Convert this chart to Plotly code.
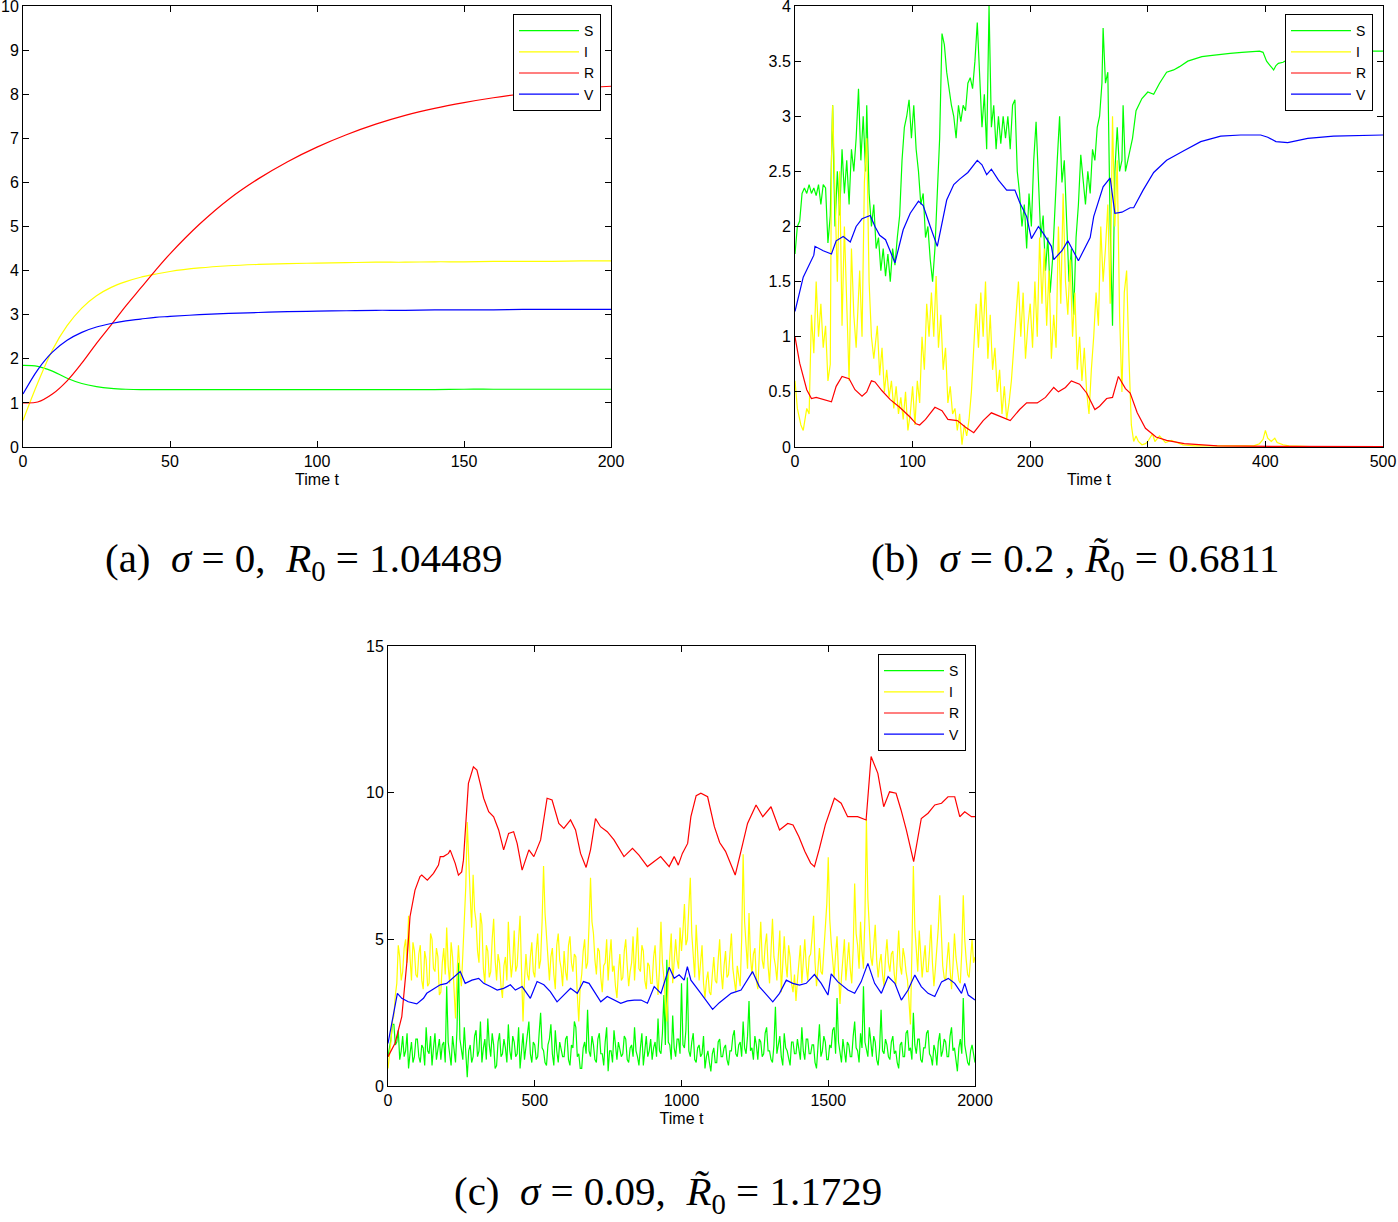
import plotly.graph_objects as go

# ---------------- Panel (a): deterministic ----------------
t_a = [0, 5, 10, 15, 20, 25, 30, 35, 40, 45, 50, 60, 70, 80, 90, 100, 110, 120, 130, 140, 150, 160, 170, 180, 190, 200]
S_a = [1.85, 1.83, 1.72, 1.56, 1.44, 1.37, 1.33, 1.31, 1.30, 1.30, 1.30, 1.30, 1.30, 1.30, 1.30, 1.30, 1.30, 1.30, 1.30, 1.30, 1.31, 1.31, 1.31, 1.31, 1.31, 1.31]
I_a = [0.60, 1.45, 2.20, 2.75, 3.15, 3.43, 3.62, 3.75, 3.85, 3.92, 3.98, 4.06, 4.11, 4.14, 4.16, 4.17, 4.18, 4.19, 4.19, 4.20, 4.20, 4.21, 4.21, 4.21, 4.22, 4.22]
R_a = [1.00, 1.02, 1.20, 1.50, 1.90, 2.35, 2.77, 3.20, 3.60, 4.00, 4.38, 5.05, 5.62, 6.08, 6.47, 6.80, 7.08, 7.32, 7.52, 7.68, 7.81, 7.92, 8.01, 8.08, 8.14, 8.18]
V_a = [1.20, 1.75, 2.15, 2.42, 2.60, 2.72, 2.80, 2.86, 2.90, 2.94, 2.96, 3.00, 3.03, 3.05, 3.07, 3.08, 3.09, 3.10, 3.10, 3.11, 3.11, 3.11, 3.12, 3.12, 3.12, 3.12]

# ---------------- Panel (b): sigma = 0.2 ----------------
t_bS = [0, 2, 4, 6, 8, 10, 12, 14, 16, 18, 20, 22, 24, 26, 28, 30, 32, 34, 36, 38, 40, 42, 44, 46, 48, 50, 52, 54, 56, 58, 60, 61, 63, 65, 67, 69, 71, 73, 75, 77, 79, 81, 83, 85, 87, 89, 91, 93, 95, 97, 99, 101, 103, 105, 107, 109, 111, 113, 115, 117, 119, 121, 123, 125, 127, 129, 131, 133, 135, 137, 139, 141, 143, 145, 147, 149, 151, 153, 155, 157, 159, 161, 163, 165, 167, 169, 171, 173, 175, 177, 179, 181, 183, 185, 187, 189, 191, 193, 195, 197, 199, 201, 203, 205, 207, 209, 211, 213, 215, 217, 219, 221, 223, 225, 227, 229, 231, 233, 235, 237, 239, 241, 243, 245, 247, 249, 251, 253, 255, 257, 259, 261, 262, 264, 266, 268, 270, 272, 274, 276, 278, 279, 281, 283, 285, 287, 290, 295, 300, 305, 310, 316, 322, 327, 334, 340, 346, 353, 360, 370, 380, 390, 395, 398, 401, 404, 407, 409, 411, 415, 420, 430, 440, 460, 480, 500]
S_b = [1.75, 2.00, 2.05, 2.30, 2.35, 2.30, 2.38, 2.30, 2.35, 2.28, 2.38, 2.20, 2.38, 2.35, 1.85, 2.10, 3.10, 2.00, 2.50, 2.10, 2.70, 2.30, 2.60, 2.20, 2.70, 2.50, 2.80, 3.25, 2.60, 3.00, 2.50, 3.10, 2.30, 2.00, 2.20, 1.80, 1.90, 1.60, 1.80, 1.55, 1.75, 1.50, 1.80, 1.65, 1.90, 2.10, 2.60, 2.90, 3.00, 3.15, 2.80, 3.10, 2.70, 2.50, 2.20, 2.30, 1.90, 2.00, 1.70, 1.50, 1.80, 2.30, 2.80, 3.75, 3.65, 3.40, 3.25, 3.10, 3.00, 2.80, 3.10, 2.95, 3.10, 3.05, 3.30, 3.35, 3.25, 3.50, 3.85, 3.30, 2.90, 3.20, 2.70, 4.00, 2.90, 3.10, 2.70, 3.00, 2.75, 3.00, 2.80, 3.00, 2.70, 3.10, 3.15, 2.50, 2.30, 2.00, 2.20, 1.80, 2.30, 2.00, 2.60, 2.95, 2.40, 1.90, 2.10, 1.60, 1.90, 1.40, 1.70, 2.20, 2.60, 3.00, 2.40, 2.60, 2.00, 1.50, 1.80, 1.20, 1.90, 2.20, 2.65, 2.40, 2.20, 2.50, 2.30, 2.70, 2.60, 2.90, 3.00, 3.30, 3.80, 3.30, 3.40, 2.00, 1.10, 2.50, 2.90, 2.50, 2.60, 3.10, 2.50, 2.60, 2.70, 2.80, 3.05, 3.16, 3.22, 3.20, 3.30, 3.40, 3.42, 3.45, 3.50, 3.52, 3.54, 3.55, 3.56, 3.57, 3.58, 3.59, 3.59, 3.58, 3.50, 3.46, 3.42, 3.46, 3.48, 3.49, 3.52, 3.55, 3.57, 3.58, 3.59, 3.59]

t_bI = [0, 2, 5, 7, 10, 12, 14, 16, 18, 20, 22, 24, 26, 28, 30, 31, 32, 34, 36, 38, 40, 42, 44, 46, 48, 50, 52, 55, 57, 59, 61, 63, 65, 67, 70, 72, 74, 76, 78, 80, 82, 84, 86, 88, 90, 92, 94, 96, 98, 100, 102, 104, 106, 108, 110, 112, 114, 116, 118, 120, 122, 124, 126, 128, 130, 132, 134, 136, 138, 140, 142, 144, 146, 148, 150, 152, 154, 156, 158, 160, 162, 164, 166, 168, 170, 172, 174, 176, 178, 180, 182, 184, 186, 188, 190, 192, 194, 196, 198, 200, 202, 204, 206, 208, 210, 212, 214, 216, 218, 220, 222, 224, 226, 228, 230, 232, 234, 236, 238, 240, 242, 244, 246, 248, 250, 252, 254, 256, 258, 260, 262, 264, 266, 268, 270, 272, 274, 276, 278, 280, 282, 284, 286, 288, 290, 292, 295, 298, 300, 304, 306, 310, 315, 320, 330, 340, 390, 395, 398, 400, 402, 405, 408, 410, 415, 420, 450, 500]
I_b = [0.60, 0.35, 0.20, 0.15, 0.35, 0.30, 1.20, 0.85, 1.50, 1.00, 1.30, 0.90, 1.10, 0.60, 0.75, 2.60, 3.10, 2.20, 1.50, 2.50, 1.10, 2.00, 1.30, 0.60, 1.80, 1.20, 0.90, 1.60, 1.00, 2.40, 2.80, 1.50, 1.00, 0.80, 1.10, 0.65, 0.90, 0.50, 0.70, 0.45, 0.60, 0.35, 0.55, 0.30, 0.45, 0.25, 0.50, 0.15, 0.30, 0.55, 0.20, 0.60, 0.40, 1.00, 0.70, 1.30, 1.00, 1.40, 1.00, 1.55, 0.90, 1.20, 0.70, 0.90, 0.40, 0.55, 0.30, 0.35, 0.15, 0.30, 0.02, 0.20, 0.10, 0.25, 0.50, 0.90, 1.30, 0.90, 1.40, 1.00, 1.50, 0.80, 1.20, 0.70, 0.90, 0.50, 0.70, 0.30, 0.55, 0.25, 0.40, 0.60, 0.90, 1.20, 1.50, 1.00, 1.40, 0.80, 1.10, 1.30, 0.90, 1.50, 1.00, 1.90, 1.30, 1.80, 1.10, 1.60, 0.80, 1.20, 0.90, 2.00, 1.30, 2.30, 1.50, 1.20, 1.70, 1.00, 1.40, 0.70, 1.00, 0.60, 0.90, 0.50, 0.30, 0.70, 1.00, 1.40, 1.10, 2.00, 1.50, 1.80, 2.20, 1.30, 3.00, 2.00, 2.60, 1.20, 0.50, 1.40, 1.60, 0.80, 0.20, 0.05, 0.10, 0.05, 0.02, 0.03, 0.05, 0.12, 0.05, 0.10, 0.04, 0.06, 0.02, 0.01, 0.01, 0.03, 0.07, 0.15, 0.08, 0.05, 0.08, 0.04, 0.02, 0.01, 0.00, 0.00]

t_bR = [0, 4, 10, 14, 18, 24, 31, 35, 40, 46, 51, 57, 61, 65, 68, 74, 81, 89, 98, 103, 106, 111, 119, 125, 130, 138, 145, 152, 160, 167, 174, 183, 191, 197, 206, 213, 220, 224, 230, 235, 242, 248, 255, 259, 265, 270, 275, 281, 285, 291, 298, 307, 316, 331, 359, 400, 410, 420, 500]
R_b = [1.00, 0.76, 0.52, 0.44, 0.45, 0.43, 0.41, 0.55, 0.64, 0.62, 0.52, 0.46, 0.50, 0.60, 0.59, 0.51, 0.43, 0.36, 0.27, 0.21, 0.20, 0.25, 0.36, 0.33, 0.25, 0.24, 0.18, 0.13, 0.24, 0.31, 0.28, 0.24, 0.34, 0.40, 0.40, 0.45, 0.54, 0.50, 0.54, 0.60, 0.57, 0.49, 0.34, 0.37, 0.44, 0.45, 0.64, 0.53, 0.49, 0.31, 0.17, 0.09, 0.06, 0.03, 0.01, 0.005, 0.01, 0.005, 0.003]

t_bV = [0, 7, 16, 17, 24, 31, 35, 41, 47, 52, 57, 64, 68, 72, 77, 85, 92, 98, 105, 109, 115, 121, 129, 135, 140, 147, 155, 159, 163, 167, 173, 180, 187, 191, 197, 201, 207, 211, 218, 220, 227, 232, 241, 251, 254, 262, 268, 272, 278, 285, 288, 296, 305, 316, 331, 345, 362, 379, 396, 402, 409, 419, 436, 458, 500]
V_b = [1.23, 1.54, 1.74, 1.82, 1.78, 1.75, 1.87, 1.91, 1.86, 2.00, 2.07, 2.10, 2.00, 1.92, 1.88, 1.67, 1.97, 2.12, 2.23, 2.19, 2.00, 1.82, 2.24, 2.38, 2.43, 2.49, 2.60, 2.56, 2.47, 2.52, 2.42, 2.33, 2.33, 2.22, 2.09, 1.89, 2.00, 1.94, 1.82, 1.70, 1.78, 1.87, 1.69, 1.90, 2.09, 2.36, 2.44, 2.12, 2.13, 2.17, 2.17, 2.33, 2.49, 2.60, 2.69, 2.77, 2.82, 2.83, 2.83, 2.81, 2.77, 2.76, 2.80, 2.82, 2.83]

# ---------------- Panel (c): sigma = 0.09 (sampled every 5 time units) ----------------
S_c = [1.0, 1.3, 1.6, 2.1, 2.1, 1.4, 1.5, 1.9, 0.9, 1.2, 1.7, 1.0, 1.2, 1.8, 0.6, 1.1, 1.5, 0.8, 1.0, 1.6,
       1.6, 1.0, 0.8, 1.4, 1.3, 0.7, 2.0, 1.2, 1.1, 1.7, 0.7, 1.3, 1.8, 0.9, 1.2, 1.6, 0.9, 1.4, 1.5, 0.8,
       3.4, 1.5, 1.1, 0.7, 1.7, 1.2, 0.8, 1.9, 4.2, 1.6, 1.3, 0.9, 2.0, 1.1, 0.3, 1.2, 1.4, 0.8, 1.0, 1.7,
       1.9, 1.0, 1.2, 2.2, 0.8, 1.3, 1.6, 0.9, 2.3, 1.4, 1.0, 1.8, 1.4, 0.6, 0.7, 1.5, 1.8, 1.0, 1.1, 1.6,
       1.3, 0.8, 2.1, 1.2, 0.9, 1.7, 1.5, 1.0, 1.1, 2.0, 0.6, 1.2, 1.8, 0.9, 1.3, 1.6, 2.2, 1.1, 0.8, 1.5,
       1.4, 0.9, 1.0, 1.8, 2.5, 1.3, 1.2, 0.8, 0.7, 1.4, 1.6, 2.1, 1.1, 0.7, 1.9, 1.2, 0.8, 1.5, 1.3, 1.0,
       1.0, 1.6, 1.7, 0.9, 0.7, 1.4, 1.3, 2.2, 2.0, 1.0, 1.1, 0.6, 0.6, 1.3, 1.5, 1.1, 2.6, 1.2, 1.0, 1.7,
       1.4, 0.9, 0.8, 1.6, 1.8, 1.1, 1.1, 0.7, 1.5, 2.0, 0.5, 1.2, 1.2, 0.8, 1.9, 1.3, 0.9, 1.5, 1.3, 1.0,
       1.1, 1.7, 1.6, 0.9, 0.8, 1.3, 1.4, 1.0, 2.0, 1.2, 1.0, 0.7, 1.3, 1.8, 0.7, 1.1, 1.7, 1.0, 1.2, 1.6,
       0.9, 1.3, 1.5, 1.0, 2.3, 1.2, 1.1, 1.8, 3.1, 1.4, 4.3, 1.5, 1.4, 0.9, 2.4, 1.3, 1.0, 1.6, 1.6, 1.1,
       3.5, 1.4, 1.3, 1.9, 3.7, 1.2, 1.0, 1.5, 1.8, 0.9, 0.8, 1.3, 1.4, 1.0, 1.1, 1.7, 0.6, 1.0, 1.2, 0.8,
       0.5, 1.1, 1.3, 0.8, 0.8, 1.5, 1.6, 1.0, 1.0, 1.3, 1.4, 0.9, 0.7, 1.2, 1.2, 1.7, 1.9, 1.1, 1.0, 1.4,
       1.5, 1.0, 2.2, 1.3, 1.1, 1.7, 2.9, 1.2, 1.3, 0.9, 1.7, 1.4, 0.9, 1.6, 1.5, 1.0, 1.1, 1.8, 2.0, 1.2,
       1.2, 0.9, 0.8, 1.4, 2.7, 1.1, 1.4, 1.7, 1.0, 0.7, 1.8, 1.3, 1.2, 1.0, 0.7, 1.5, 1.5, 1.1, 1.1, 1.6,
       1.3, 0.9, 2.0, 1.2, 0.9, 1.6, 1.6, 1.1, 1.1, 1.4, 1.4, 0.8, 0.6, 1.3, 2.1, 1.0, 1.2, 1.7, 1.5, 0.9,
       0.9, 1.4, 1.3, 1.9, 2.0, 1.1, 3.0, 1.5, 1.1, 0.8, 1.6, 1.2, 0.8, 1.5, 1.4, 1.0, 1.0, 1.7, 2.2, 1.3,
       1.2, 0.8, 1.8, 1.3, 3.4, 1.5, 1.3, 1.0, 2.0, 1.4, 1.0, 1.7, 1.5, 0.9, 0.7, 1.3, 2.6, 1.2, 1.1, 1.6,
       1.4, 1.0, 0.9, 1.5, 1.7, 1.1, 1.2, 0.8, 0.6, 1.4, 1.5, 1.0, 1.0, 1.8, 1.9, 1.2, 1.3, 0.9, 2.5, 1.4,
       1.1, 1.6, 1.6, 0.9, 0.8, 1.3, 1.3, 1.8, 1.9, 1.1, 1.0, 0.7, 1.4, 1.2, 0.7, 1.5, 1.8, 1.0, 1.2, 1.6,
       1.5, 1.0, 1.0, 1.7, 2.0, 1.2, 1.3, 0.9, 0.5, 1.3, 1.6, 1.1, 3.0, 1.4, 1.1, 0.8, 0.7, 1.2, 1.4, 1.0,
       0.8]
I_c = [0.6, 1.0, 1.5, 2.2, 2.4, 3.1, 3.5, 4.8, 4.4, 3.6, 3.9, 4.7, 5.0, 4.2, 5.8, 4.4, 3.6, 4.9, 4.6, 3.8,
       3.7, 4.5, 4.8, 3.6, 3.3, 4.6, 4.3, 3.4, 3.5, 5.2, 5.0, 4.0, 3.9, 4.7, 4.4, 3.1, 3.2, 4.2, 4.7, 3.8,
       5.4, 4.1, 3.5, 4.9, 4.4, 3.3, 2.3, 3.8, 4.8, 3.9, 3.4, 4.5, 5.6, 6.8, 9.0, 7.4, 6.5, 5.4, 7.2, 6.0,
       5.6, 4.6, 4.2, 5.9, 5.5, 4.0, 3.5, 4.8, 4.6, 3.7, 3.9, 5.0, 5.7, 4.3, 3.6, 4.5, 4.2, 3.4, 3.0, 4.1,
       4.4, 3.6, 5.6, 4.5, 3.7, 4.2, 5.3, 3.9, 4.1, 5.0, 5.8, 3.9, 2.2, 3.6, 4.5, 3.8, 3.6, 4.4, 4.9, 3.9,
       3.7, 4.6, 5.2, 4.0, 4.3, 5.6, 7.5, 5.9, 5.0, 4.1, 3.6, 4.4, 4.7, 3.8, 3.3, 4.8, 5.2, 4.3, 4.0, 3.4,
       4.6, 3.9, 3.6, 4.8, 5.1, 4.2, 3.9, 4.5, 4.4, 3.1, 2.2, 3.4, 3.8, 4.6, 5.0, 4.0, 4.2, 5.5, 7.1, 5.6,
       5.2, 4.3, 3.8, 4.7, 4.6, 3.7, 3.2, 4.1, 4.2, 5.0, 3.6, 4.4, 5.0, 3.9, 4.1, 3.4, 3.0, 3.9, 4.5, 3.6,
       3.7, 4.6, 5.0, 4.1, 3.4, 3.9, 4.2, 5.1, 3.6, 4.5, 5.4, 4.0, 3.9, 4.8, 4.6, 3.6, 3.3, 4.2, 4.1, 3.5,
       3.5, 4.4, 4.8, 3.8, 3.1, 4.0, 5.6, 4.2, 3.7, 2.9, 2.2, 3.6, 4.3, 5.2, 3.5, 4.1, 5.0, 4.3, 4.0, 5.4,
       4.6, 5.3, 6.2, 4.8, 5.0, 6.1, 7.1, 5.2, 4.4, 3.7, 5.5, 4.6, 3.6, 4.2, 4.8, 3.5, 3.0, 3.6, 3.9, 3.2,
       3.1, 3.8, 4.4, 3.6, 3.5, 4.3, 5.0, 3.9, 3.3, 4.1, 4.6, 3.7, 3.8, 4.5, 5.2, 4.0, 3.6, 3.2, 4.1, 3.7,
       3.4, 5.0, 7.9, 5.6, 4.8, 4.0, 5.9, 4.4, 3.8, 4.5, 4.7, 3.6, 3.3, 4.6, 5.6, 4.3, 4.0, 4.8, 5.2, 4.1,
       3.5, 4.6, 5.7, 4.4, 4.1, 3.6, 4.6, 5.3, 3.2, 4.0, 5.1, 4.2, 3.7, 4.8, 4.4, 3.5, 3.2, 3.8, 2.9, 3.6,
       4.1, 4.8, 3.5, 4.3, 5.0, 4.1, 3.6, 4.4, 4.5, 5.1, 5.8, 4.2, 3.4, 4.0, 4.7, 3.9, 3.8, 4.6, 5.3, 6.2,
       7.8, 5.7, 4.9, 4.1, 3.7, 4.5, 5.1, 3.9, 2.8, 3.7, 4.3, 5.0, 3.6, 4.2, 4.9, 4.0, 3.5, 4.7, 6.9, 5.2,
       4.8, 4.0, 5.6, 4.6, 4.0, 5.8, 9.1, 6.4, 5.3, 4.4, 4.1, 4.9, 5.5, 4.3, 3.7, 4.2, 4.5, 3.8, 3.4, 4.4,
       5.0, 4.2, 3.9, 4.5, 4.6, 3.8, 3.4, 4.3, 5.3, 4.1, 3.8, 4.7, 4.4, 3.9, 3.6, 2.9, 2.1, 4.6, 7.5, 5.4,
       4.6, 3.9, 5.3, 4.4, 3.7, 4.3, 4.8, 3.9, 3.9, 4.6, 5.5, 4.2, 3.4, 4.0, 4.6, 5.4, 6.5, 4.9, 4.1, 3.7,
       3.6, 4.3, 4.9, 4.0, 3.3, 4.1, 5.2, 4.4, 4.0, 3.6, 3.5, 4.6, 6.5, 5.0, 4.3, 3.8, 3.7, 4.5, 5.0, 4.2,
       4.4]
t_cS = [5 * i for i in range(len(S_c))]
t_cI = [5 * i for i in range(len(I_c))]

t_cR = [0, 24, 47, 64, 75, 92, 109, 115, 134, 155, 172, 178, 189, 206, 212, 223, 229, 240, 251, 257, 274, 291, 303, 314, 326, 343, 360, 377, 394, 411, 428, 440, 457, 480, 497, 520, 542, 559, 582, 599, 622, 639, 656, 675, 690, 707, 724, 747, 770, 804, 833, 855, 884, 929, 958, 975, 989, 1003, 1021, 1032, 1050, 1066, 1089, 1112, 1130, 1150, 1165, 1183, 1200, 1225, 1254, 1277, 1305, 1334, 1362, 1380, 1400, 1420, 1440, 1453, 1470, 1490, 1521, 1544, 1566, 1600, 1629, 1646, 1669, 1689, 1709, 1731, 1748, 1766, 1791, 1817, 1840, 1863, 1886, 1908, 1931, 1948, 1965, 1988, 2000]
R_c = [1.00, 1.46, 2.36, 4.18, 5.77, 6.68, 7.14, 7.19, 7.02, 7.25, 7.53, 7.82, 7.82, 7.93, 8.04, 7.76, 7.59, 7.19, 7.30, 7.70, 10.32, 10.88, 10.77, 10.32, 9.81, 9.35, 9.18, 8.73, 8.05, 8.61, 8.67, 8.27, 7.36, 8.05, 7.82, 8.39, 9.81, 9.75, 8.95, 8.78, 9.07, 8.73, 7.93, 7.45, 8.05, 9.12, 8.84, 8.67, 8.39, 7.82, 8.10, 7.87, 7.48, 7.82, 7.48, 7.82, 7.53, 7.93, 8.27, 9.18, 9.90, 9.98, 9.86, 8.84, 8.30, 8.00, 7.60, 7.19, 7.90, 8.95, 9.58, 9.18, 9.52, 8.73, 8.95, 8.90, 8.50, 8.00, 7.60, 7.48, 8.10, 8.90, 9.81, 9.64, 9.18, 9.18, 9.07, 11.23, 10.66, 9.52, 10.03, 9.98, 9.41, 8.73, 7.65, 9.12, 9.30, 9.58, 9.64, 9.86, 9.86, 9.18, 9.35, 9.18, 9.18]

t_cV = [0, 18, 32, 47, 69, 98, 121, 132, 178, 200, 246, 263, 286, 309, 326, 349, 372, 394, 417, 434, 457, 485, 508, 531, 553, 576, 593, 622, 645, 666, 685, 702, 725, 747, 770, 793, 816, 839, 862, 884, 907, 930, 958, 975, 992, 1009, 1020, 1032, 1066, 1089, 1106, 1129, 1169, 1203, 1220, 1242, 1265, 1294, 1311, 1334, 1357, 1379, 1402, 1425, 1453, 1476, 1499, 1510, 1533, 1567, 1590, 1612, 1635, 1658, 1681, 1704, 1727, 1749, 1772, 1795, 1817, 1840, 1863, 1886, 1909, 1931, 1954, 1965, 1977, 2000]
V_c = [1.45, 2.36, 3.16, 2.99, 2.87, 2.80, 2.99, 3.16, 3.45, 3.50, 3.90, 3.50, 3.61, 3.67, 3.50, 3.39, 3.27, 3.33, 3.45, 3.27, 3.39, 2.99, 3.56, 3.45, 3.22, 2.87, 3.05, 3.33, 3.16, 3.56, 3.50, 3.22, 2.87, 3.05, 2.93, 2.82, 2.90, 2.93, 2.93, 2.82, 3.39, 3.16, 4.05, 3.67, 3.79, 3.61, 4.07, 3.61, 3.16, 2.82, 2.61, 2.84, 3.16, 3.27, 3.55, 3.90, 3.39, 3.05, 2.87, 3.16, 3.61, 3.50, 3.44, 3.50, 3.80, 3.50, 3.10, 3.82, 3.55, 3.27, 3.16, 3.55, 4.18, 3.50, 3.16, 3.73, 3.50, 2.93, 3.27, 3.78, 3.39, 3.16, 3.05, 3.55, 3.67, 3.50, 3.16, 3.50, 3.10, 2.93]

series_names = ["S", "I", "R", "V"]
series_colors = ["#00ff00", "#ffff00", "#ff0000", "#0000ff"]

captions = [
    "(a)  <i>σ</i> = 0,  <i>R</i><sub>0</sub> = 1.04489",
    "(b)  <i>σ</i> = 0.2 , <i>R̃</i><sub>0</sub> = 0.6811",
    "(c)  <i>σ</i> = 0.09,  <i>R̃</i><sub>0</sub> = 1.1729",
]

W, H = 1398, 1222
fig = go.Figure()

panels = [
    ("x", "y", "legend", "spline", [(t_a, S_a), (t_a, I_a), (t_a, R_a), (t_a, V_a)]),
    ("x2", "y2", "legend2", "linear", [(t_bS, S_b), (t_bI, I_b), (t_bR, R_b), (t_bV, V_b)]),
    ("x3", "y3", "legend3", "linear", [(t_cS, S_c), (t_cI, I_c), (t_cR, R_c), (t_cV, V_c)]),
]
for xa, ya, lg, shape, data in panels:
    for (xs, ys), name, col in zip(data, series_names, series_colors):
        fig.add_trace(go.Scatter(x=xs, y=ys, mode="lines", name=name,
                                 line=dict(color=col, width=1.2, shape=shape),
                                 xaxis=xa, yaxis=ya, legend=lg,
                                 showlegend=True))


def px_x(p):
    return p / W


def px_y(p):
    return 1 - p / H


tick_font = dict(family="Liberation Sans, Arial, sans-serif", size=16, color="black")


def axis(domain, rng, dtick, anchor, title=None):
    d = dict(domain=domain, range=rng, dtick=dtick, tick0=0, ticks="inside", ticklen=6,
             tickcolor="black", showline=True, linecolor="black", linewidth=1,
             mirror="allticks", showgrid=False, zeroline=False, tickfont=tick_font,
             anchor=anchor, fixedrange=True, automargin=False, ticklabeloverflow="allow")
    if title:
        d["title"] = dict(text=title, font=tick_font, standoff=4)
    return d


top_y = [px_y(447), px_y(6)]
bot_y = [px_y(1086), px_y(646)]

fig.update_layout(
    width=W, height=H,
    margin=dict(l=0, r=0, t=0, b=0, pad=0, autoexpand=False),
    paper_bgcolor="white", plot_bgcolor="white",
    xaxis=axis([px_x(23), px_x(611)], [0, 200], 50, "y", "Time t"),
    yaxis=axis(top_y, [0, 10], 1, "x"),
    xaxis2=axis([px_x(795), px_x(1383)], [0, 500], 100, "y2", "Time t"),
    yaxis2=axis(top_y, [0, 4], 0.5, "x2"),
    xaxis3=axis([px_x(388), px_x(975)], [0, 2000], 500, "y3", "Time t"),
    yaxis3=axis(bot_y, [0, 15], 5, "x3"),
)

leg_common = dict(bgcolor="white", bordercolor="black", borderwidth=1,
                  font=dict(family="Liberation Sans, Arial, sans-serif", size=14, color="black"),
                  xanchor="right", yanchor="top", tracegroupgap=0, itemwidth=60)
fig.update_layout(
    legend=dict(x=px_x(601), y=px_y(14), **leg_common),
    legend2=dict(x=px_x(1373), y=px_y(14), **leg_common),
    legend3=dict(x=px_x(966), y=px_y(654), **leg_common),
)

cap_font = dict(family="Liberation Serif, DejaVu Serif, serif", size=41, color="black")
for (cx, cy), txt in zip([(303, 561), (1075, 561), (668, 1194)], captions):
    fig.add_annotation(x=px_x(cx), y=px_y(cy), xref="paper", yref="paper",
                       text=txt, showarrow=False, font=cap_font,
                       xanchor="center", yanchor="middle")

fig.write_html("out.html", config={"displayModeBar": False},
               post_script="document.body.style.margin='0px';")
